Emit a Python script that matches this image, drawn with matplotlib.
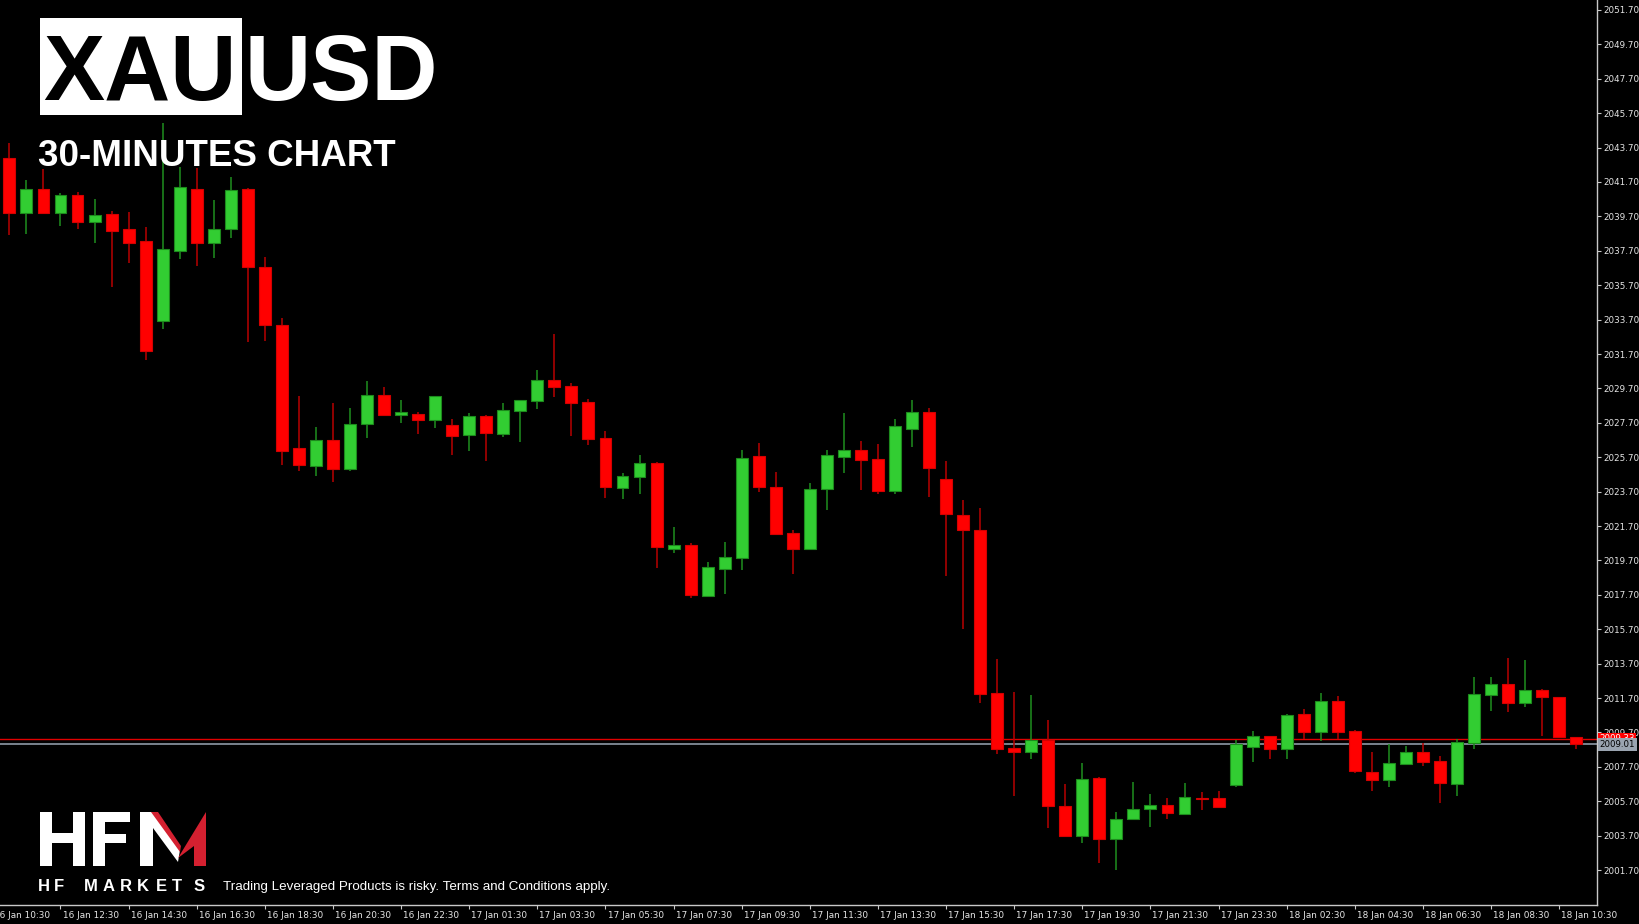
import numpy as np
import matplotlib
matplotlib.use("Agg")
import matplotlib.pyplot as plt
from matplotlib.patches import Rectangle, Polygon
from matplotlib.transforms import blended_transform_factory

# XAUUSD 30 min candles, 16 Jan 11:00 -> 18 Jan 11:00
opens = [2043.12, 2039.88, 2041.28, 2039.88, 2040.95, 2039.37, 2039.84, 2038.97, 2038.28, 2033.60,
         2037.69, 2041.27, 2038.14, 2038.95, 2041.31, 2036.76, 2033.40, 2026.21, 2025.20, 2026.72,
         2025.02, 2027.61, 2029.30, 2028.16, 2028.22, 2027.87, 2027.57, 2026.98, 2028.10, 2027.05,
         2028.41, 2028.97, 2030.19, 2029.82, 2028.89, 2026.80, 2023.90, 2024.57, 2025.35, 2020.36,
         2020.57, 2017.63, 2019.19, 2019.86, 2025.79, 2023.95, 2021.27, 2020.36, 2023.84, 2025.73,
         2026.10, 2025.59, 2023.75, 2027.34, 2028.33, 2024.43, 2022.34, 2021.49, 2011.98, 2008.78,
         2008.54, 2009.29, 2005.42, 2003.66, 2007.03, 2003.52, 2004.65, 2005.27, 2005.48, 2004.96,
         2005.87, 2005.87, 2006.62, 2008.87, 2009.51, 2008.74, 2010.75, 2009.70, 2011.51, 2009.76,
         2007.40, 2006.92, 2007.85, 2008.54, 2008.04, 2006.68, 2009.11, 2011.88, 2012.49, 2011.39,
         2012.16, 2011.79, 2009.45]
highs = [2043.95, 2041.80, 2042.45, 2041.05, 2041.14, 2040.71, 2040.03, 2039.98, 2039.11, 2045.12,
         2042.59, 2042.49, 2040.65, 2042.01, 2041.33, 2037.35, 2033.79, 2029.26, 2027.45, 2028.83,
         2028.58, 2030.13, 2029.76, 2029.03, 2028.34, 2029.26, 2027.91, 2028.26, 2028.16, 2028.83,
         2029.03, 2030.77, 2032.86, 2030.00, 2029.09, 2027.23, 2024.80, 2025.81, 2025.43, 2021.64,
         2020.71, 2019.62, 2020.77, 2026.12, 2026.55, 2024.86, 2021.47, 2024.19, 2026.12, 2028.28,
         2026.66, 2026.48, 2027.91, 2029.03, 2028.58, 2025.48, 2023.19, 2022.72, 2013.97, 2012.05,
         2011.86, 2010.42, 2006.68, 2007.91, 2007.09, 2005.06, 2006.80, 2006.12, 2005.87, 2006.75,
         2006.24, 2006.30, 2009.29, 2009.78, 2009.52, 2010.75, 2011.06, 2012.00, 2011.82, 2009.84,
         2008.58, 2009.01, 2008.91, 2009.07, 2008.35, 2009.31, 2012.92, 2012.92, 2014.05, 2013.91,
         2012.22, 2011.79, 2009.45]
lows = [2038.62, 2038.68, 2039.88, 2039.15, 2038.99, 2038.17, 2035.61, 2036.98, 2031.35, 2033.14,
        2037.20, 2036.84, 2037.26, 2038.42, 2032.41, 2032.43, 2025.25, 2024.88, 2024.62, 2024.27,
        2024.88, 2026.80, 2028.16, 2027.71, 2027.05, 2027.41, 2025.81, 2026.06, 2025.50, 2026.86,
        2026.60, 2028.53, 2029.22, 2026.94, 2026.43, 2023.34, 2023.28, 2023.58, 2019.24, 2020.12,
        2017.51, 2017.57, 2017.77, 2019.13, 2023.70, 2021.16, 2018.93, 2020.28, 2022.65, 2024.80,
        2023.81, 2023.58, 2023.58, 2026.29, 2023.38, 2018.81, 2015.71, 2011.40, 2008.43, 2006.01,
        2008.13, 2004.16, 2003.66, 2003.28, 2002.12, 2001.68, 2004.59, 2004.22, 2004.65, 2004.94,
        2005.19, 2005.33, 2006.54, 2007.98, 2008.16, 2008.16, 2009.31, 2009.21, 2009.31, 2007.35,
        2006.30, 2006.54, 2007.79, 2007.73, 2005.62, 2006.01, 2008.72, 2010.95, 2010.91, 2011.19,
        2009.51, 2009.42, 2008.72]
closes = [2039.88, 2041.28, 2039.92, 2040.95, 2039.37, 2039.76, 2038.87, 2038.17, 2031.89, 2037.80,
          2041.39, 2038.14, 2038.97, 2041.21, 2036.74, 2033.36, 2026.06, 2025.27, 2026.72, 2025.02,
          2027.65, 2029.30, 2028.16, 2028.32, 2027.85, 2029.26, 2026.94, 2028.10, 2027.11, 2028.45,
          2029.01, 2030.19, 2029.76, 2028.85, 2026.74, 2023.95, 2024.61, 2025.35, 2020.49, 2020.57,
          2017.71, 2019.31, 2019.92, 2025.67, 2023.95, 2021.22, 2020.36, 2023.88, 2025.85, 2026.10,
          2025.55, 2023.75, 2027.53, 2028.33, 2025.06, 2022.39, 2021.49, 2011.93, 2008.74, 2008.56,
          2009.26, 2005.45, 2003.66, 2006.98, 2003.52, 2004.68, 2005.24, 2005.49, 2005.04, 2005.93,
          2005.81, 2005.39, 2009.01, 2009.51, 2008.74, 2010.69, 2009.72, 2011.51, 2009.70, 2007.47,
          2006.94, 2007.92, 2008.54, 2007.98, 2006.74, 2009.14, 2011.93, 2012.49, 2011.39, 2012.18,
          2011.77, 2009.42, 2009.01]

time_labels = ["16 Jan 10:30", "16 Jan 12:30", "16 Jan 14:30", "16 Jan 16:30", "16 Jan 18:30",
               "16 Jan 20:30", "16 Jan 22:30", "17 Jan 01:30", "17 Jan 03:30", "17 Jan 05:30",
               "17 Jan 07:30", "17 Jan 09:30", "17 Jan 11:30", "17 Jan 13:30", "17 Jan 15:30",
               "17 Jan 17:30", "17 Jan 19:30", "17 Jan 21:30", "17 Jan 23:30", "18 Jan 02:30",
               "18 Jan 04:30", "18 Jan 06:30", "18 Jan 08:30", "18 Jan 10:30"]
label_bars = list(range(-1, 92, 4))

bid = 2009.01
ask = 2009.33
price_ticks = np.arange(2001.70, 2052.0, 2.0)

W, H = 1640, 924
fig = plt.figure(figsize=(W / 100, H / 100), dpi=100, facecolor="black")
ax = fig.add_axes([0, 19 / H, 1597 / W, 905 / H])
ax.set_facecolor("black")

o = np.array(opens)
c = np.array(closes)
x = np.arange(len(o))
up = c >= o

# bid / ask lines behind the candles
ax.axhline(bid, color="#8e99a6", lw=1.2, zorder=1)
ax.axhline(ask, color="#e00000", lw=1.0, zorder=1)

# wicks
ax.vlines(x[up], np.array(lows)[up], np.array(highs)[up], colors="#1f8f1f", lw=1.1, zorder=2)
ax.vlines(x[~up], np.array(lows)[~up], np.array(highs)[~up], colors="#b80000", lw=1.1, zorder=2)

# bodies
ax.bar(x[up], (c - o)[up], bottom=o[up], width=0.7, color="#32cd32", edgecolor="#1d8a1d",
       linewidth=0.8, zorder=3)
ax.bar(x[~up], (o - c)[~up], bottom=c[~up], width=0.7, color="#ff0000", edgecolor="#d40000",
       linewidth=0.8, zorder=3)

ax.set_xlim(-0.552, 93.22)
ax.set_ylim(1999.67, 2052.28)

for s in ["top", "left"]:
    ax.spines[s].set_visible(False)
for s in ["right", "bottom"]:
    ax.spines[s].set_color("#c8c8c8")
    ax.spines[s].set_linewidth(1.0)

ax.yaxis.tick_right()
ax.set_yticks(price_ticks)
ax.set_yticklabels([f"{v:.2f}" for v in price_ticks])
ax.tick_params(axis="y", colors="#c8c8c8", labelcolor="#e6e6e6", labelsize=6.3,
               length=3, width=0.8, pad=1.5)

ax.set_xticks([b for b in label_bars if b >= 0])
ax.set_xticklabels([])
ax.tick_params(axis="x", colors="#c8c8c8", length=3, width=0.8)

trans = blended_transform_factory(ax.transData, ax.transAxes)
for b, lab in zip(label_bars, time_labels):
    ax.text(b + 0.12, -0.0115, lab, transform=trans, ha="left", va="center",
            fontsize=6.4, color="#e6e6e6", clip_on=False)

# price boxes on the axis
ytr = blended_transform_factory(ax.transAxes, ax.transData)
ax.text(1.0015, ask, "2009.33", transform=ytr, ha="left", va="center", fontsize=6.2,
        color="white", clip_on=False, zorder=5,
        bbox=dict(boxstyle="square,pad=0.18", facecolor="#ff0000", edgecolor="none"))
ax.text(1.0015, bid, "2009.01", transform=ytr, ha="left", va="center", fontsize=6.2,
        color="black", clip_on=False, zorder=6,
        bbox=dict(boxstyle="square,pad=0.22", facecolor="#9aa4b0", edgecolor="none"))


def fp(pts):
    return [(px / W, 1 - py / H) for px, py in pts]


# title
fig.add_artist(Rectangle((40 / W, 1 - 115 / H), 202 / W, 97 / H, facecolor="white",
                         edgecolor="none", transform=fig.transFigure))
fig.text(43 / W, 1 - 100 / H, "XAU", fontsize=66, fontweight="bold", family="Liberation Sans",
         color="black", va="baseline", ha="left")
fig.text(245 / W, 1 - 100 / H, "USD", fontsize=66, fontweight="bold", family="Liberation Sans",
         color="white", va="baseline", ha="left")
fig.text(38 / W, 1 - 166 / H, "30-MINUTES CHART", fontsize=26.5, fontweight="bold",
         family="Liberation Sans", color="white", va="baseline", ha="left")

# HFM logo
white_parts = [
    [(40, 812), (52, 812), (52, 866), (40, 866)],
    [(73, 812), (85, 812), (85, 866), (73, 866)],
    [(40, 833), (85, 833), (85, 843), (40, 843)],
    [(93, 812), (105, 812), (105, 866), (93, 866)],
    [(93, 812), (130, 812), (130, 822), (93, 822)],
    [(93, 834), (126, 834), (126, 843), (93, 843)],
    [(140, 866), (140, 812), (156, 812), (180, 850), (178, 862), (153, 828), (153, 866)],
]
for p in white_parts:
    fig.add_artist(Polygon(fp(p), closed=True, facecolor="white", edgecolor="none",
                           transform=fig.transFigure))
red_parts = [
    [(151, 812), (158, 812), (181, 846), (180, 852)],
    [(178, 858), (206, 812), (206, 866), (194, 866), (194, 846)],
]
for p in red_parts:
    fig.add_artist(Polygon(fp(p), closed=True, facecolor="#d42030", edgecolor="none",
                           transform=fig.transFigure))

hf_letters = "HFMARKETS"
hf_x = [43.5, 59, 91, 109, 125.5, 143, 161, 177, 199]
for ch, px in zip(hf_letters, hf_x):
    fig.text(px / W, 1 - 891 / H, ch, fontsize=12, fontweight="bold", family="Liberation Sans",
             color="white", ha="center", va="baseline")

fig.text(223 / W, 1 - 890 / H, "Trading Leveraged Products is risky. Terms and Conditions apply.",
         fontsize=9.6, family="Liberation Sans", color="white", ha="left", va="baseline")

fig.savefig("out.png", dpi=100, facecolor="black")
